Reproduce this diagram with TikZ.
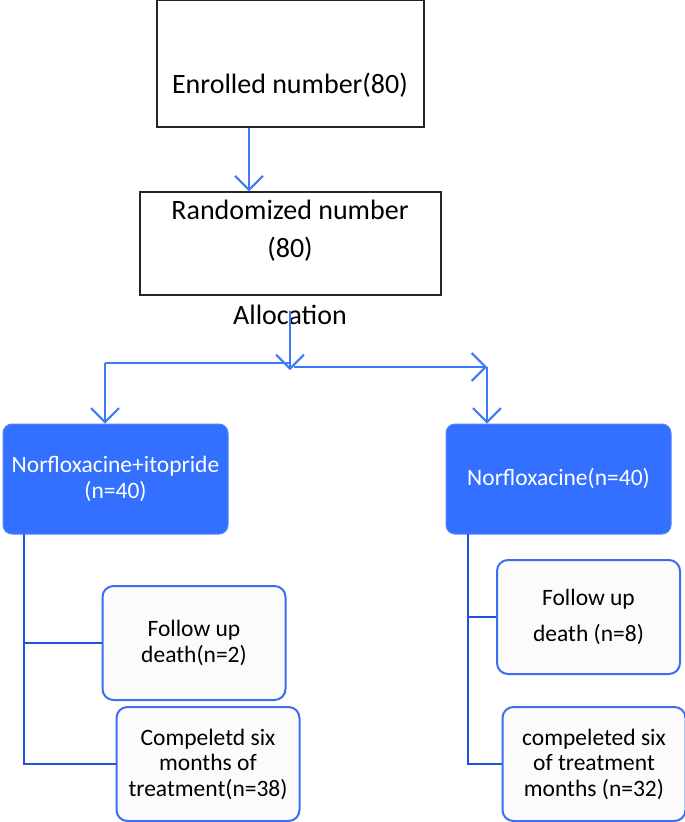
\documentclass[tikz,border=0pt]{standalone}
\usepackage{fontspec}
\setmainfont{Carlito}
\usetikzlibrary{arrows.meta}
\definecolor{arrblue}{RGB}{61,122,245}
\definecolor{treeblue}{RGB}{30,80,225}
\definecolor{fillblue}{RGB}{51,112,255}
\definecolor{bordblue}{RGB}{59,111,240}
\definecolor{paleg}{RGB}{251,251,251}
\tikzset{
  plainbox/.style={draw=black!85, line width=1.5pt, inner sep=0pt},
  bigtxt/.style={font=\fontsize{28}{38}\selectfont, align=center, inner sep=0pt},
  filledbox/.style={fill=fillblue, draw=fillblue!85!white, line width=1pt, rounded corners=9pt, minimum width=225pt, minimum height=110pt, text=white, align=center, font=\fontsize{23.5}{26}\selectfont, inner sep=0pt},
  smallbox/.style={draw=bordblue, fill=paleg, line width=2pt, rounded corners=11pt, minimum width=183pt, minimum height=114pt, align=center, font=\fontsize{23.5}{25.5}\selectfont, inner sep=0pt},
  arr/.style={draw=arrblue, line width=2pt, -{Straight Barb[length=14pt, width=28pt, line width=2pt]}},
  ln/.style={draw=arrblue, line width=2pt},
  tree/.style={draw=treeblue, line width=2.6pt}
}
\begin{document}
\begin{tikzpicture}[x=1pt, y=-1pt]
\useasboundingbox (0,0) rectangle (685,822);
% top boxes
\node[plainbox, minimum width=267pt, minimum height=127pt] (enr) at (290.5,63.5) {};
\node[bigtxt] (enrt) at (290,85) {Enrolled number(80)};
\node[plainbox, minimum width=301pt, minimum height=103pt] (rand) at (290.5,243.5) {};
\node[bigtxt] (randt) at (290,231) {Randomized number\\(80)};
\node[bigtxt] (alloc) at (290,315) {Allocation};
\draw[arr] ([xshift=-41.5pt]enr.south) -- ([xshift=-41.5pt]rand.north);
% allocation split
\coordinate (split) at (290,370);
\coordinate (lc) at (105,363);
\coordinate (rc) at (487,367);
\draw[arr] ([yshift=14pt]alloc.south) -- (split);
% boxes
\node[filledbox] (nfi) at (115.5,479) {Norfloxacine+itopride\\(n=40)};
\node[filledbox] (nf) at (558.5,479) {Norfloxacine(n=40)};
\draw[ln] (290,363) -- (lc);
\draw[arr] (lc) -- (lc |- nfi.north);
\draw[arr] (294,367) -- (rc);
\draw[arr] (rc) -- (rc |- nf.north);
% lower boxes
\node[smallbox] (fu1) at (194,643) {Follow up\\death(n=2)};
\node[smallbox] (cp1) at (208,764) {Compeletd six\\months of\\treatment(n=38)};
\node[smallbox, font=\fontsize{23.5}{36}\selectfont] (fu2) at (588.5,617) {Follow up\\death (n=8)};
\node[smallbox] (cp2) at (594,764) {compeleted six\\of treatment\\months (n=32)};
% trees
\coordinate (lt) at (24,534);
\coordinate (rt) at (468,534);
\draw[tree] (lt) -- (lt |- cp1.west) -- (cp1.west);
\draw[tree] (lt |- fu1.west) -- (fu1.west);
\draw[tree] (rt) -- (rt |- cp2.west) -- (cp2.west);
\draw[tree] (rt |- fu2.west) -- (fu2.west);
\end{tikzpicture}
\end{document}
